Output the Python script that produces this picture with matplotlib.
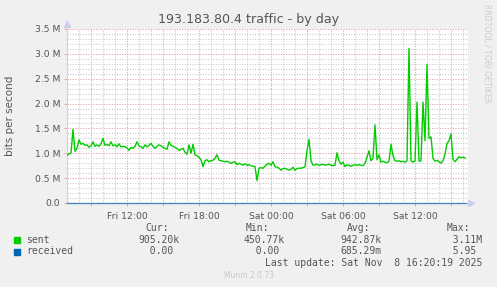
import matplotlib
matplotlib.use('Agg')
import matplotlib.pyplot as plt
import matplotlib.dates as mdates
from matplotlib.lines import Line2D
from matplotlib.patches import Rectangle
import pandas as pd

W, H = 497, 287

# sent traffic in Mbit/s, one reading every 10 minutes from Fri 07:00
sent = [
    0.96, 0.99, 1.00, 1.48, 1.04, 1.10, 1.27, 1.18, 1.20, 1.16, 1.17, 1.12,
    1.15, 1.23, 1.14, 1.17, 1.14, 1.19, 1.30, 1.16, 1.18, 1.15, 1.23, 1.15,
    1.17, 1.13, 1.19, 1.13, 1.14, 1.13, 1.11, 1.06, 1.12, 1.10, 1.14, 1.23,
    1.15, 1.13, 1.10, 1.17, 1.13, 1.16, 1.20, 1.14, 1.10, 1.14, 1.17, 1.15,
    1.12, 1.10, 1.08, 1.23, 1.16, 1.14, 1.12, 1.10, 1.06, 1.08, 1.10, 1.02,
    0.98, 1.17, 1.00, 1.18, 0.97, 0.95, 0.92, 0.87, 0.73, 0.85, 0.87, 0.83,
    0.85, 0.86, 0.90, 0.97, 0.86, 0.85, 0.84, 0.83, 0.84, 0.82, 0.80, 0.82,
    0.83, 0.77, 0.80, 0.78, 0.76, 0.79, 0.76, 0.77, 0.75, 0.74, 0.73, 0.45,
    0.70, 0.71, 0.70, 0.74, 0.78, 0.80, 0.76, 0.83, 0.73, 0.72, 0.70, 0.66,
    0.69, 0.70, 0.68, 0.66, 0.68, 0.72, 0.66, 0.69, 0.70, 0.70, 0.71, 0.73,
    1.05, 1.28, 0.85, 0.76, 0.77, 0.78, 0.76, 0.77, 0.78, 0.76, 0.77, 0.78,
    0.76, 0.75, 0.76, 1.01, 0.85, 0.78, 0.82, 0.73, 0.77, 0.76, 0.74, 0.76,
    0.77, 0.76, 0.77, 0.76, 0.75, 0.80, 0.92, 1.05, 0.85, 0.90, 1.57, 0.87,
    0.97, 0.82, 0.84, 0.82, 0.81, 0.84, 1.18, 0.95, 0.85, 0.84, 0.85, 0.83,
    0.84, 0.82, 0.85, 3.11, 0.85, 0.82, 0.85, 2.03, 0.84, 0.85, 2.03, 1.25,
    2.79, 1.30, 1.33, 0.90, 0.84, 0.86, 0.83, 0.80, 0.85, 0.98, 1.20, 1.25,
    1.39, 0.88, 0.83, 0.88, 0.93, 0.91, 0.92, 0.905,
]
# received stays at zero (max 5.95 bit/s)
received = [0.0] * len(sent)
times = pd.date_range('2025-11-07 07:00', periods=len(sent), freq='10min')

series_names = ['sent', 'received']
series_colors = ['#00cc00', '#0066b3']
cur_vals = ['905.20k', '  0.00']
min_vals = ['450.77k', '  0.00']
avg_vals = ['942.87k', '685.29m']
max_vals = ['  3.11M', '  5.95']

y_ticks = [0, 0.5, 1.0, 1.5, 2.0, 2.5, 3.0, 3.5]
y_labels = ['0.0', '0.5 M', '1.0 M', '1.5 M', '2.0 M', '2.5 M', '3.0 M', '3.5 M']

txt = '#555555'
mono = 'DejaVu Sans Mono'


def fx(x):
    return x / W


def fy(y):
    return 1 - y / H


fig = plt.figure(figsize=(W / 100, H / 100), dpi=100, facecolor='#f0f0f0')
ax = fig.add_axes([fx(67), fy(203), 401 / W, 174 / H])
ax.set_facecolor('white')

ax.plot(times, [v * 1e6 for v in sent], color=series_colors[0], lw=1.0, zorder=3)
ax.plot(times, received, color=series_colors[1], lw=1.0, alpha=0.45,
        zorder=4, clip_on=False)

ax.set_xlim(pd.Timestamp('2025-11-07 07:00'), pd.Timestamp('2025-11-08 16:25'))
ax.set_ylim(0, 3.5e6)

ax.set_yticks([t * 1e6 for t in y_ticks])
ax.set_yticklabels(y_labels)
ax.set_yticks([i * 0.1e6 for i in range(36)], minor=True)

ax.xaxis.set_major_locator(mdates.HourLocator(byhour=range(0, 24, 3)))
ax.xaxis.set_minor_locator(mdates.HourLocator())


def xfmt(v, pos):
    d = mdates.num2date(v)
    return d.strftime('%a %H:%M') if d.hour % 6 == 0 else ''


ax.xaxis.set_major_formatter(plt.FuncFormatter(xfmt))

ax.grid(which='major', color='#e39a9a', linestyle=(0, (1, 1.5)), lw=0.75)
ax.grid(which='minor', color='#c9c9c9', linestyle=(0, (1, 1.5)), lw=0.75)
ax.set_axisbelow(True)

ax.tick_params(which='major', length=2, width=0.6, color='#e39a9a',
               labelsize=6.7, labelcolor=txt)
ax.tick_params(axis='x', which='major', pad=4.5)
ax.tick_params(axis='y', which='major', pad=3)
ax.tick_params(which='minor', length=0)

for s in ['top', 'right']:
    ax.spines[s].set_visible(False)
ax.spines['left'].set_color('#c8cff0')
ax.spines['left'].set_linewidth(0.8)
ax.spines['bottom'].set_color('#8a9fd0')
ax.spines['bottom'].set_linewidth(0.8)

# axis arrows
fig.add_artist(Line2D([fx(67)], [fy(24)], marker='^', ms=4, color='#c8cff0',
                      transform=fig.transFigure))
fig.add_artist(Line2D([fx(471)], [fy(203)], marker='>', ms=4, color='#c8cff0',
                      transform=fig.transFigure))

fig.text(0.5, fy(19), '193.183.80.4 traffic - by day', ha='center', va='center',
         fontsize=9.1, color=txt)
fig.text(fx(10), fy(116), 'bits per second', rotation=90, ha='center',
         va='center', fontsize=7.5, color=txt)
fig.text(fx(487), fy(54), 'RRDTOOL / TOBI OETIKER', rotation=270, ha='center',
         va='center', fontsize=5.6, color='#cccccc')

# legend block
for x, head in [(145, 'Cur:'), (246, 'Min:'), (347, 'Avg:'), (447, 'Max:')]:
    fig.text(fx(x), fy(228), head, ha='left', va='center', fontsize=7,
             family=mono, color=txt)

rows = [240, 251.5]
for k, name in enumerate(series_names):
    y = rows[k]
    fig.add_artist(Rectangle((fx(14), fy(y + 3)), 6 / W, 6 / H,
                             color=series_colors[k], transform=fig.transFigure))
    fig.text(fx(26), fy(y), name, ha='left', va='center', fontsize=7,
             family=mono, color=txt)
    for x, vals in [(138, cur_vals), (244, min_vals), (340, avg_vals), (441, max_vals)]:
        fig.text(fx(x), fy(y), vals[k], ha='left', va='center', fontsize=7,
                 family=mono, color=txt)

fig.text(fx(482), fy(263), 'Last update: Sat Nov  8 16:20:19 2025', ha='right',
         va='center', fontsize=7, family=mono, color=txt)
fig.text(0.5, fy(276), 'Munin 2.0.73', ha='center', va='center', fontsize=5.5,
         color='#c8c8c8')

fig.savefig('out.png', dpi=100, facecolor=fig.get_facecolor())
